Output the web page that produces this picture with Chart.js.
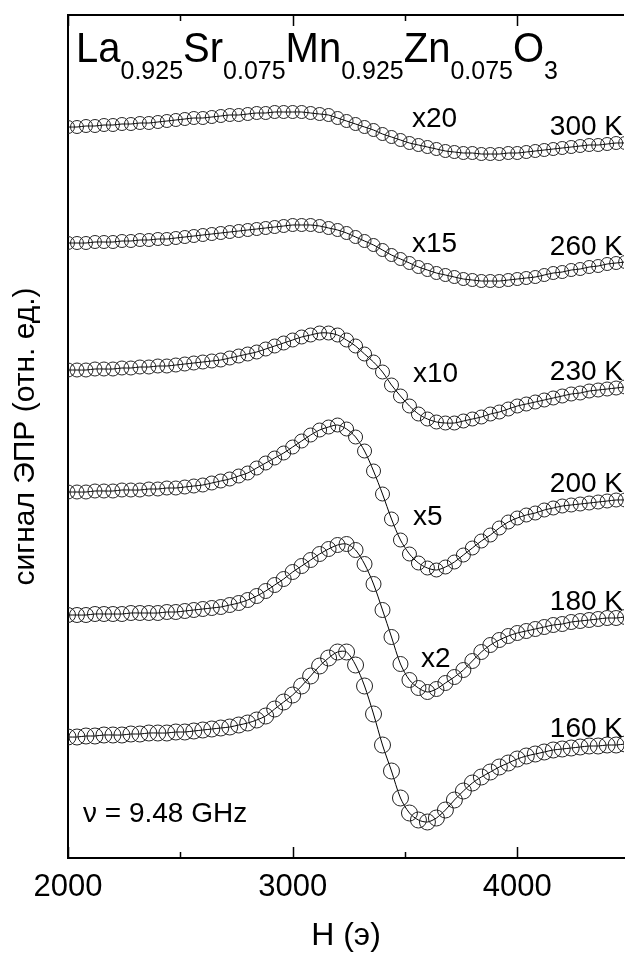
<!DOCTYPE html>
<html>
<head>
<meta charset="utf-8">
<script src="https://cdn.jsdelivr.net/npm/chart.js@4"></script>
<style>
  html, body { margin: 0; padding: 0; background: #fff; overflow: hidden; }
  #wrap { width: 633px; height: 956px; }
</style>
</head>
<body>
<div id="wrap"><canvas id="epr" width="633" height="956"></canvas></div>
<script>
// поле H (Э), шаг 40 Э
const fields = [
  2000, 2040, 2080, 2120, 2160, 2200, 2240, 2280, 2320, 2360,
  2400, 2440, 2480, 2520, 2560, 2600, 2640, 2680, 2720, 2760,
  2800, 2840, 2880, 2920, 2960, 3000, 3040, 3080, 3120, 3160,
  3200, 3240, 3280, 3320, 3360, 3400, 3440, 3480, 3520, 3560,
  3600, 3640, 3680, 3720, 3760, 3800, 3840, 3880, 3920, 3960,
  4000, 4040, 4080, 4120, 4160, 4200, 4240, 4280, 4320, 4360,
  4400, 4440, 4480
];

// сигнал ЭПР (отн. ед.), кривые уже сдвинуты по вертикали
const s300 = [
  731, 731, 732, 732, 733, 733, 734, 734, 735, 735,
  736, 737, 738, 739, 740, 740, 741, 742, 743, 743,
  744, 745, 745, 746, 746, 746, 746, 745, 744, 743,
  740, 737, 734, 731, 728, 724, 721, 718, 715, 713,
  711, 709, 707, 706, 705, 705, 704, 704, 704, 705,
  705, 706, 707, 708, 709, 710, 711, 712, 713, 713,
  714, 715, 715
];
const s260 = [
  615, 615, 615, 616, 616, 616, 617, 617, 618, 618,
  619, 619, 620, 621, 622, 623, 624, 625, 626, 627,
  628, 629, 630, 631, 632, 633, 633, 633, 632, 630,
  628, 625, 621, 617, 613, 608, 603, 599, 595, 591,
  588, 585, 583, 581, 579, 578, 577, 577, 577, 578,
  579, 580, 581, 583, 585, 586, 588, 589, 591, 592,
  594, 595, 596
];
const s230 = [
  488, 488, 488, 489, 489, 489, 490, 490, 491, 491,
  492, 492, 493, 494, 495, 496, 497, 498, 500, 502,
  504, 506, 509, 512, 515, 518, 521, 523, 525, 525,
  523, 518, 512, 504, 496, 486, 473, 462, 452, 444,
  439, 436, 435, 435, 437, 439, 441, 444, 446, 449,
  452, 454, 456, 458, 460, 462, 464, 465, 467, 468,
  469, 470, 471
];
const s200 = [
  366, 366, 366, 367, 367, 367, 368, 368, 368, 369,
  369, 370, 370, 371, 372, 373, 375, 377, 379, 382,
  385, 390, 395, 400, 405, 411, 417, 423, 428, 431,
  433, 429, 421, 407, 387, 364, 339, 318, 304, 295,
  290, 288, 291, 296, 303, 310, 317, 323, 330, 336,
  340, 343, 345, 348, 350, 352, 353, 354, 355, 356,
  357, 358, 358
];
const s180 = [
  243, 243, 243, 244, 244, 244, 244, 245, 245, 245,
  245, 246, 246, 247, 248, 249, 250, 251, 253, 255,
  258, 262, 267, 273, 279, 286, 292, 298, 304, 309,
  313, 314, 308, 294, 274, 248, 221, 194, 178, 170,
  166, 169, 175, 181, 188, 197, 206, 213, 218, 222,
  225, 227, 229, 231, 233, 234, 236, 237, 238, 239,
  240, 240, 241
];
const s160 = [
  121, 121, 122, 122, 123, 123, 123, 124, 124, 125,
  125, 125, 126, 126, 127, 128, 129, 130, 131, 133,
  135, 138, 142, 149, 156, 163, 172, 182, 192, 200,
  206, 206, 193, 172, 144, 113, 87, 60, 45, 38,
  36, 40, 48, 58, 67, 75, 81, 86, 91, 95,
  99, 102, 104, 106, 108, 109, 110, 111, 112, 112,
  113, 113, 114
];

const series = [s300, s260, s230, s200, s180, s160];
const tempLabels = ['300 K', '260 K', '230 K', '200 K', '180 K', '160 K'];
const gainLabels = ['x20', 'x15', 'x10', 'x5', 'x2', ''];
const majorTicks = [2000, 3000, 4000];
const minorTicks = [2500, 3500];
const formula = [['La', '0.925'], ['Sr', '0.075'], ['Mn', '0.925'], ['Zn', '0.075'], ['O', '3']];

const FONT = '"Liberation Sans", Arial, sans-serif';
const pointSizes = [6.5, 6.5, 7, 7, 7.5, 8];

const datasets = series.map((s, i) => ({
  label: tempLabels[i],
  data: fields.map((h, j) => ({ x: h, y: s[j] })),
  borderColor: '#000',
  borderWidth: 1,
  tension: 0.3,
  pointRadius: pointSizes[i],
  pointBorderColor: '#222',
  pointBorderWidth: 1,
  pointBackgroundColor: 'rgba(0,0,0,0)',
  pointHoverRadius: pointSizes[i]
}));

const annotate = {
  id: 'annotate',
  afterDraw(chart) {
    const { ctx, chartArea: a, scales: { x, y } } = chart;
    ctx.save();
    ctx.strokeStyle = '#000';
    ctx.lineWidth = 2;
    ctx.beginPath();
    ctx.moveTo(a.left - 1, a.top);
    ctx.lineTo(a.right, a.top);
    ctx.stroke();

    // засечки внутрь на верхней и нижней осях
    ctx.lineWidth = 1.5;
    const marks = majorTicks.map(v => [v, 11]).concat(minorTicks.map(v => [v, 6]));
    marks.forEach(([v, len]) => {
      const px = Math.round(x.getPixelForValue(v)) + 0.5;
      ctx.beginPath();
      ctx.moveTo(px, a.bottom); ctx.lineTo(px, a.bottom - len);
      ctx.moveTo(px, a.top); ctx.lineTo(px, a.top + len);
      ctx.stroke();
    });

    ctx.fillStyle = '#000';
    ctx.textBaseline = 'alphabetic';

    // формула образца (чуть вытянута по вертикали, как в оригинале)
    ctx.save();
    ctx.translate(0, 62);
    ctx.scale(1, 1.05);
    let cx = a.left + 8;
    formula.forEach(([el, sub]) => {
      ctx.font = '40px ' + FONT;
      ctx.fillText(el, cx, 0);
      cx += ctx.measureText(el).width;
      ctx.font = '25px ' + FONT;
      ctx.fillText(sub, cx, 16);
      cx += ctx.measureText(sub).width;
    });
    ctx.restore();

    // температуры у правого края
    ctx.font = '28px ' + FONT;
    ctx.textAlign = 'right';
    series.forEach((s, i) => {
      const yEnd = y.getPixelForValue(s[s.length - 2]);
      ctx.fillText(tempLabels[i], a.right - 1, yEnd - 8);
    });

    // множители усиления
    ctx.textAlign = 'left';
    const gainPos = [[412, 127], [412, 252], [413, 382], [413, 525], [421, 667]];
    gainLabels.forEach((t, i) => {
      if (!t) return;
      ctx.fillText(t, gainPos[i][0], gainPos[i][1]);
    });

    ctx.fillText('\u03bd = 9.48 GHz', a.left + 15, a.bottom - 36);
    ctx.restore();
  }
};

new Chart(document.getElementById('epr'), {
  type: 'line',
  data: { datasets },
  options: {
    responsive: false,
    animation: false,
    events: [],
    layout: { padding: { top: 15, right: 0, bottom: 0, left: 0 } },
    plugins: { legend: { display: false }, tooltip: { enabled: false } },
    scales: {
      x: {
        type: 'linear',
        min: 2000,
        max: 4475,
        afterBuildTicks: s => { s.ticks = majorTicks.map(v => ({ value: v })); },
        afterFit: s => { s.height = 98; },
        grid: { display: false, drawTicks: false },
        border: { display: true, color: '#000', width: 2 },
        ticks: { color: '#000', padding: 11, maxRotation: 0, font: { family: FONT, size: 31 }, callback: v => String(v) },
        title: { display: true, text: 'H (\u044d)', color: '#000', padding: { top: 0, bottom: 1 }, font: { family: FONT, size: 32 } }
      },
      y: {
        min: 0,
        max: 843,
        afterFit: s => { s.width = 68; },
        grid: { display: false, drawTicks: false },
        border: { display: true, color: '#000', width: 2 },
        ticks: { display: false },
        title: { display: true, text: 'сигнал ЭПР (отн. ед.)', color: '#000', padding: { top: 8, bottom: 0 }, font: { family: FONT, size: 30 } }
      }
    }
  },
  plugins: [annotate]
});
</script>
</body>
</html>
